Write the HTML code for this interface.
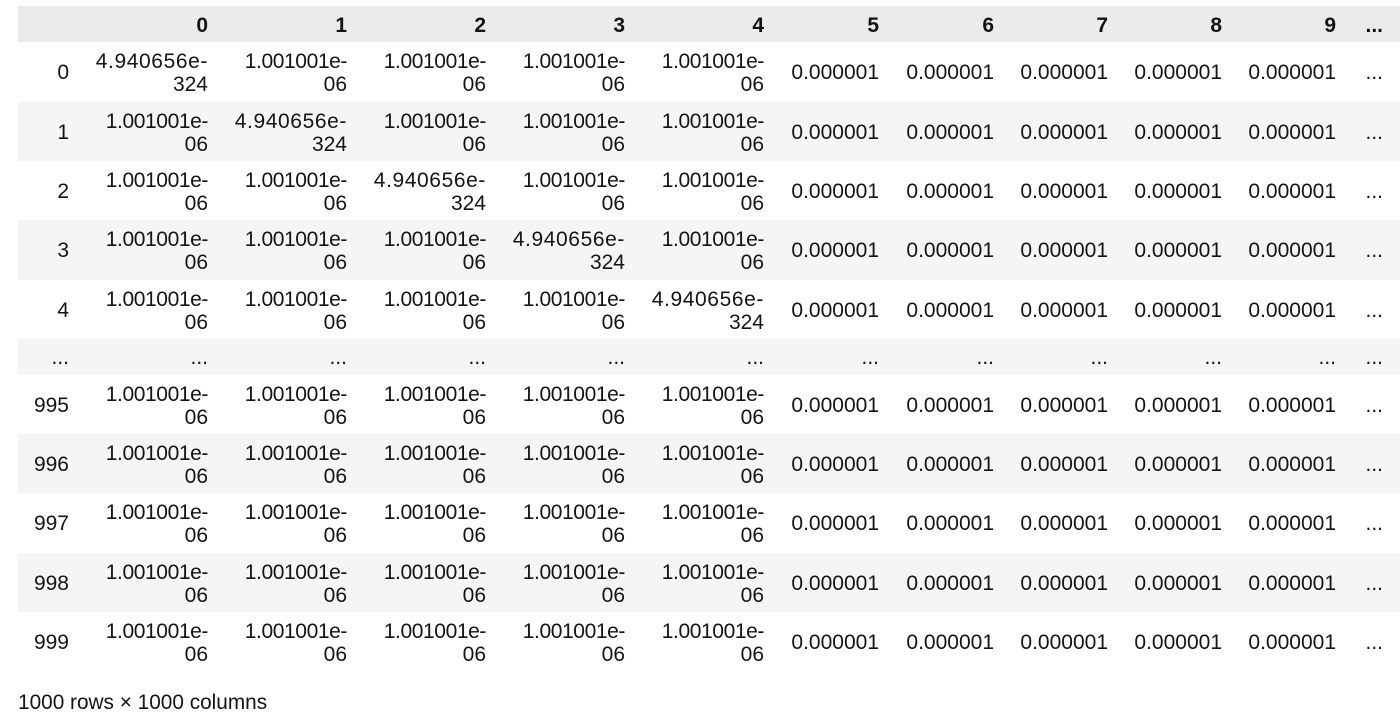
<!DOCTYPE html>
<html lang="en">
<head>
<meta charset="utf-8">
<title>DataFrame table</title>
<style>
html,body{margin:0;padding:0;background:#fff;width:1400px;height:725px;overflow:hidden}
body{font-family:"Liberation Sans",sans-serif;color:#141414;position:relative}
table{position:absolute;left:18px;top:6px;width:1382px;border-collapse:collapse;border-spacing:0;table-layout:fixed;font-size:21px;line-height:23px}
td,th{padding:0 10px 0 0;text-align:right;vertical-align:middle;white-space:nowrap;overflow:visible;font-weight:normal}
thead tr{background:#ebebeb;height:36px}
thead th{font-weight:bold;font-size:21px;padding-top:3px}
tbody tr:nth-child(even){background:#f5f5f5}
th:last-child,td:last-child{padding-right:17px}
.r60{height:60px}.r59{height:59px}.r36{height:36px}
.r59 td:first-child,.r59 td:nth-child(n+7){padding-top:2px}
.r59 td:nth-child(-n+6):not(:first-child),.r60 td:nth-child(-n+6):not(:first-child){padding-top:2px}
.r59 td:nth-child(-n+6):not(:first-child)::first-line,.r60 td:nth-child(-n+6):not(:first-child)::first-line{letter-spacing:-.4px}
.r59 td.d:nth-child(-n+6):not(:first-child)::first-line,.r60 td.d:nth-child(-n+6):not(:first-child)::first-line{letter-spacing:.6px}
#footer{position:absolute;left:18px;top:691px;font-size:20.8px;line-height:24px;white-space:nowrap}
</style>
</head>
<body>
<table>
<colgroup><col style="width:61px"><col style="width:139px"><col style="width:139px"><col style="width:139px"><col style="width:139px"><col style="width:139px"><col style="width:115px"><col style="width:115px"><col style="width:114px"><col style="width:114px"><col style="width:114px"><col style="width:54px"></colgroup>
<thead>
<tr><th></th><th>0</th><th>1</th><th>2</th><th>3</th><th>4</th><th>5</th><th>6</th><th>7</th><th>8</th><th>9</th><th>...</th></tr>
</thead>
<tbody>
<tr class="r60"><td>0</td><td class="d">4.940656e-<br>324</td><td>1.001001e-<br>06</td><td>1.001001e-<br>06</td><td>1.001001e-<br>06</td><td>1.001001e-<br>06</td><td>0.000001</td><td>0.000001</td><td>0.000001</td><td>0.000001</td><td>0.000001</td><td>...</td></tr>
<tr class="r59"><td>1</td><td>1.001001e-<br>06</td><td class="d">4.940656e-<br>324</td><td>1.001001e-<br>06</td><td>1.001001e-<br>06</td><td>1.001001e-<br>06</td><td>0.000001</td><td>0.000001</td><td>0.000001</td><td>0.000001</td><td>0.000001</td><td>...</td></tr>
<tr class="r59"><td>2</td><td>1.001001e-<br>06</td><td>1.001001e-<br>06</td><td class="d">4.940656e-<br>324</td><td>1.001001e-<br>06</td><td>1.001001e-<br>06</td><td>0.000001</td><td>0.000001</td><td>0.000001</td><td>0.000001</td><td>0.000001</td><td>...</td></tr>
<tr class="r60"><td>3</td><td>1.001001e-<br>06</td><td>1.001001e-<br>06</td><td>1.001001e-<br>06</td><td class="d">4.940656e-<br>324</td><td>1.001001e-<br>06</td><td>0.000001</td><td>0.000001</td><td>0.000001</td><td>0.000001</td><td>0.000001</td><td>...</td></tr>
<tr class="r59"><td>4</td><td>1.001001e-<br>06</td><td>1.001001e-<br>06</td><td>1.001001e-<br>06</td><td>1.001001e-<br>06</td><td class="d">4.940656e-<br>324</td><td>0.000001</td><td>0.000001</td><td>0.000001</td><td>0.000001</td><td>0.000001</td><td>...</td></tr>
<tr class="r36"><td>...</td><td>...</td><td>...</td><td>...</td><td>...</td><td>...</td><td>...</td><td>...</td><td>...</td><td>...</td><td>...</td><td>...</td></tr>
<tr class="r59"><td>995</td><td>1.001001e-<br>06</td><td>1.001001e-<br>06</td><td>1.001001e-<br>06</td><td>1.001001e-<br>06</td><td>1.001001e-<br>06</td><td>0.000001</td><td>0.000001</td><td>0.000001</td><td>0.000001</td><td>0.000001</td><td>...</td></tr>
<tr class="r59"><td>996</td><td>1.001001e-<br>06</td><td>1.001001e-<br>06</td><td>1.001001e-<br>06</td><td>1.001001e-<br>06</td><td>1.001001e-<br>06</td><td>0.000001</td><td>0.000001</td><td>0.000001</td><td>0.000001</td><td>0.000001</td><td>...</td></tr>
<tr class="r60"><td>997</td><td>1.001001e-<br>06</td><td>1.001001e-<br>06</td><td>1.001001e-<br>06</td><td>1.001001e-<br>06</td><td>1.001001e-<br>06</td><td>0.000001</td><td>0.000001</td><td>0.000001</td><td>0.000001</td><td>0.000001</td><td>...</td></tr>
<tr class="r59"><td>998</td><td>1.001001e-<br>06</td><td>1.001001e-<br>06</td><td>1.001001e-<br>06</td><td>1.001001e-<br>06</td><td>1.001001e-<br>06</td><td>0.000001</td><td>0.000001</td><td>0.000001</td><td>0.000001</td><td>0.000001</td><td>...</td></tr>
<tr class="r59"><td>999</td><td>1.001001e-<br>06</td><td>1.001001e-<br>06</td><td>1.001001e-<br>06</td><td>1.001001e-<br>06</td><td>1.001001e-<br>06</td><td>0.000001</td><td>0.000001</td><td>0.000001</td><td>0.000001</td><td>0.000001</td><td>...</td></tr>
</tbody>
</table>
<div id="footer">1000 rows × 1000 columns</div>
</body>
</html>
